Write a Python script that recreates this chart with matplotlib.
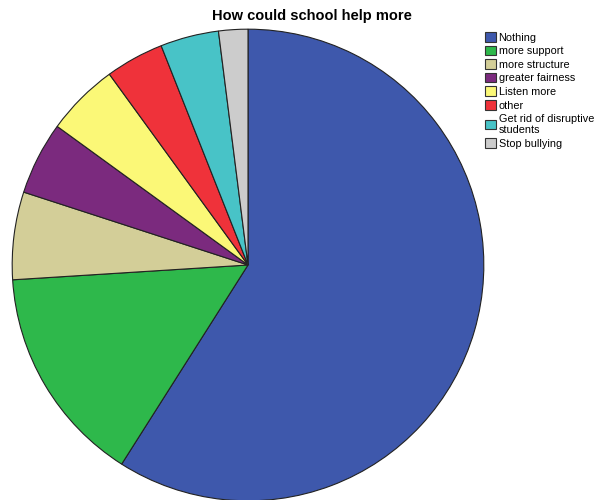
import matplotlib
matplotlib.use("Agg")
import matplotlib.pyplot as plt
from matplotlib.patches import Patch

plt.rcParams['font.family'] = ['Liberation Sans', 'DejaVu Sans']

# answers and share of respondents (%)
labels = ['Nothing', 'more support', 'more structure', 'greater fairness',
          'Listen more', 'other', 'Get rid of disruptive\nstudents', 'Stop bullying']
values = [59, 15, 6, 5, 5, 4, 4, 2]
colors = ['#3E58AC', '#2EB84B', '#D3CE98', '#7B2A7E',
          '#FBF877', '#EF323A', '#48C3C7', '#CCCCCC']

fig = plt.figure(figsize=(5.96, 5.0), dpi=100)
ax = fig.add_axes([11 / 596, -2 / 500, 474 / 596, 474 / 500])

ax.pie(values, colors=colors, startangle=90, counterclock=False, radius=1,
       wedgeprops=dict(edgecolor='#222222', linewidth=0.8))
ax.set_xlim(-1.005, 1.005)
ax.set_ylim(-1.005, 1.005)
ax.set_aspect('equal')
ax.axis('off')

fig.text(312 / 596, 1 - 16 / 500, 'How could school help more',
         ha='center', va='center', fontsize=10.5, fontweight='bold')

handles = [Patch(facecolor=c, edgecolor='#333333', linewidth=0.8) for c in colors]
fig.legend(handles, labels, loc='upper left', bbox_to_anchor=(485 / 596, 1 - 32 / 500),
           frameon=False, fontsize=7.8, handlelength=1.0, handleheight=1.0,
           handletextpad=0.25, labelspacing=0.28, borderaxespad=0, borderpad=0)

fig.savefig('out.png', dpi=100)
